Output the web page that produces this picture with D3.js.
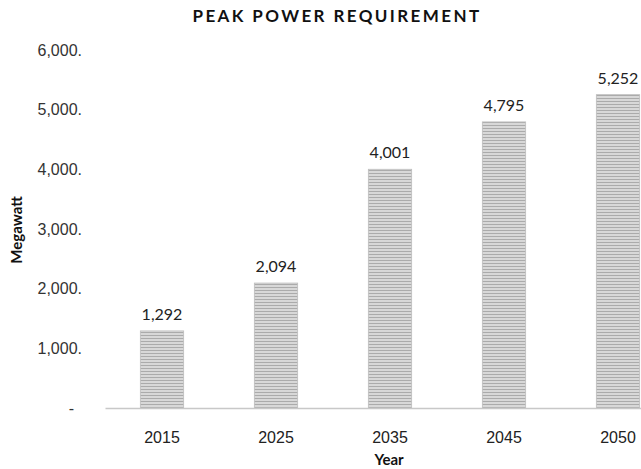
<!DOCTYPE html>
<html>
<head>
<meta charset="utf-8">
<script src="https://cdn.jsdelivr.net/npm/d3@7"></script>
<style>
  body { margin: 0; background: #fff; }
  svg { display: block; font-family: Lato, "Open Sans", sans-serif; }
</style>
</head>
<body>
<svg id="chart" width="641" height="469"></svg>
<script>
// Peak power requirement by year, in megawatts
const years = ["2015", "2025", "2035", "2045", "2050"];
const megawatts = [1292, 2094, 4001, 4795, 5252];
const yTicks = [0, 1000, 2000, 3000, 4000, 5000, 6000];

const svg = d3.select("#chart");
const margin = { left: 105, right: -34, top: 50, bottom: 61 };
const W = 641, H = 469;

const x = d3.scaleBand()
  .domain(years)
  .range([margin.left, W - margin.right])
  .paddingInner(0.62)
  .paddingOuter(0.31);

const y = d3.scaleLinear()
  .domain([0, 6000])
  .range([H - margin.bottom, margin.top]);

// striped fill for the bars
const defs = svg.append("defs");
const pat = defs.append("pattern")
  .attr("id", "stripes")
  .attr("patternUnits", "userSpaceOnUse")
  .attr("width", 8).attr("height", 3);
pat.append("rect").attr("width", 8).attr("height", 3).attr("fill", "#d8d8d8");
pat.append("rect").attr("y", 2).attr("width", 8).attr("height", 1).attr("fill", "#ababab");

// title
svg.append("text")
  .attr("x", 337).attr("y", 22)
  .attr("text-anchor", "middle")
  .attr("font-size", 17).attr("font-weight", "bold")
  .attr("letter-spacing", 2.4)
  .attr("fill", "#111")
  .text("PEAK POWER REQUIREMENT");

// y axis labels
const fmt = d3.format(",");
const yAxis = d3.axisLeft(y)
  .tickValues(yTicks)
  .tickSize(0)
  .tickPadding(0)
  .tickFormat(d => d === 0 ? "-" : fmt(d) + ".");
const yg = svg.append("g")
  .attr("transform", "translate(82,0)")
  .call(yAxis);
yg.select(".domain").remove();
yg.selectAll("text")
  .attr("font-size", 16).attr("fill", "#333")
  .attr("dx", d => d === 0 ? -8 : 0);

// bars
svg.selectAll("rect.bar")
  .data(years.map((c, i) => ({ c, v: megawatts[i] })))
  .join("rect")
  .attr("class", "bar")
  .attr("x", d => x(d.c))
  .attr("width", x.bandwidth())
  .attr("y", d => y(d.v))
  .attr("height", d => y(0) - y(d.v))
  .attr("fill", "url(#stripes)")
  .attr("stroke", "#bdbdbd")
  .attr("stroke-width", 0.8);

// value labels
svg.selectAll("text.val")
  .data(years.map((c, i) => ({ c, v: megawatts[i] })))
  .join("text")
  .attr("class", "val")
  .attr("x", d => x(d.c) + x.bandwidth() / 2)
  .attr("y", d => y(d.v) - 11)
  .attr("text-anchor", "middle")
  .attr("font-size", 16).attr("fill", "#222")
  .text(d => fmt(d.v));

// x axis
const xAxis = d3.axisBottom(x).tickSize(0).tickPadding(24);
const xg = svg.append("g")
  .attr("transform", `translate(0,${y(0)})`)
  .call(xAxis);
xg.select(".domain").attr("stroke", "#c8c8c8").attr("stroke-width", 1.5);
xg.selectAll("text").attr("font-size", 16).attr("fill", "#222");

// axis titles
svg.append("text")
  .attr("x", 389).attr("y", 465)
  .attr("text-anchor", "middle")
  .attr("font-size", 15).attr("font-weight", "bold").attr("fill", "#111")
  .text("Year");

svg.append("text")
  .attr("transform", "translate(22,230) rotate(-90)")
  .attr("text-anchor", "middle")
  .attr("font-size", 15).attr("font-weight", "bold").attr("fill", "#111")
  .text("Megawatt");
</script>
</body>
</html>
